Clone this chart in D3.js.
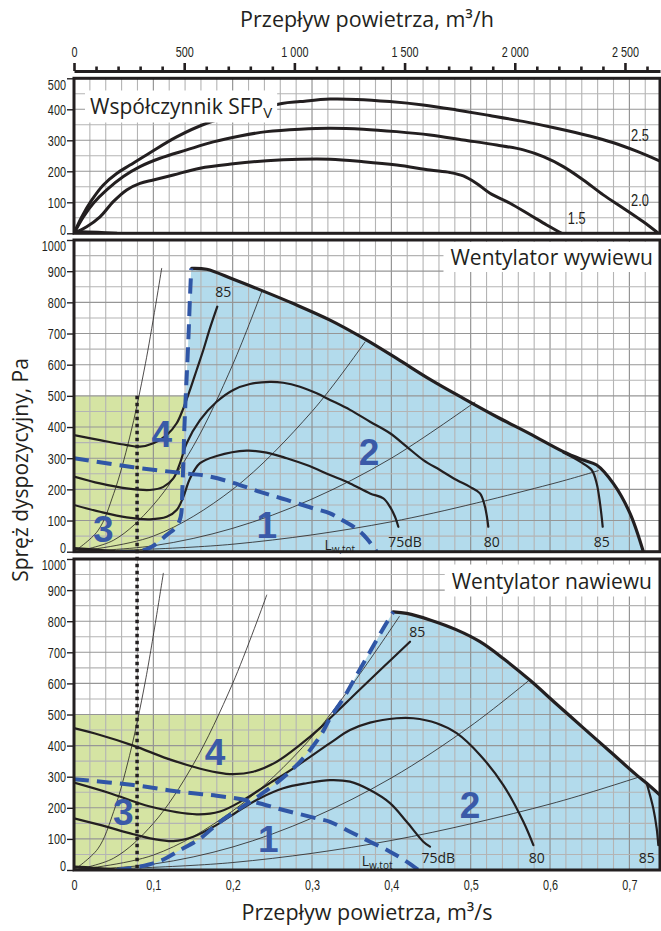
<!DOCTYPE html>
<html>
<head>
<meta charset="utf-8">
<script src="https://cdn.jsdelivr.net/npm/d3@7"></script>
<style>
html, body { margin: 0; padding: 0; background: #fff; }
svg { display: block; }
</style>
</head>
<body>
<svg id="chart"></svg>
<script>
// ---------- DATA (flow in m3/s, pressure in Pa) ----------
var flowMax = 0.7386;
var topTicks = [0, 500, 1000, 1500, 2000, 2500];
var topTickLabels = ["0", "500", "1 000", "1 500", "2 000", "2 500"];
var bottomTicks = [0, 0.1, 0.2, 0.3, 0.4, 0.5, 0.6, 0.7];
var bottomTickLabels = ["0", "0,1", "0,2", "0,3", "0,4", "0,5", "0,6", "0,7"];
var sfpTicks = [0, 100, 200, 300, 400, 500];
var paTicks = [0, 100, 200, 300, 400, 500, 600, 700, 800, 900, 1000];

// SFPv panel
var sfp25 = [[0,0],[0.0097,53],[0.0223,107],[0.037,156],[0.0538,193],[0.0706,220],[0.0958,260],[0.1294,311],[0.1673,355],[0.215,390],[0.262,419],[0.285,425],[0.3227,433],[0.356,432],[0.398,425],[0.44,414],[0.482,398],[0.524,380],[0.566,361],[0.608,339],[0.65,314],[0.68,292],[0.709,265],[0.7386,233]];
var sfp20 = [[0,0],[0.0118,53],[0.0244,97],[0.0412,140],[0.0622,183],[0.0832,215],[0.1084,242],[0.142,269],[0.1756,295],[0.2092,314],[0.2429,328],[0.2849,336],[0.3227,339],[0.3646,336],[0.4067,328],[0.4487,317],[0.4907,301],[0.5328,285],[0.5664,269],[0.5916,247],[0.6167,215],[0.6419,172],[0.6671,124],[0.6924,81],[0.7176,37],[0.7365,0]];
var sfp15 = [[0,0],[0.016,21],[0.0328,53],[0.0495,102],[0.0664,140],[0.0832,161],[0.1,172],[0.1252,188],[0.1588,210],[0.2008,224],[0.2429,234],[0.2849,239],[0.3227,239],[0.3646,231],[0.4067,220],[0.4487,204],[0.4739,196],[0.4907,185],[0.5075,161],[0.5243,129],[0.5495,97],[0.5748,59],[0.5958,27],[0.6147,0]];
var sfpStub = [[0,6],[0.03,3],[0.054,0]];
var sfpLabels = [["2.5", 0.7134, 317], ["2.0", 0.7134, 107], ["1.5", 0.6336, 48]];

// Exhaust fan panel (Wentylator wywiewu)
var exMax = [[0.1483,909],[0.1672,906],[0.2008,874],[0.2386,836],[0.2764,796],[0.3227,743],[0.3646,685],[0.4067,620],[0.4487,553],[0.4907,492],[0.5328,433],[0.5748,378],[0.6167,321],[0.6419,294],[0.6588,278],[0.6797,219],[0.7008,123],[0.7176,0]];
var exZoneEdge = [[0.058,0],[0.079,0],[0.098,16],[0.117,54],[0.129,80],[0.1345,112],[0.1365,198],[0.1378,284],[0.139,390],[0.1408,497],[0.1428,604],[0.1446,711],[0.1462,818],[0.1478,909]];
var exLimit = [[0,300],[0.0748,271],[0.1336,253],[0.1672,243],[0.2008,221],[0.2344,192],[0.2681,166],[0.3016,139],[0.3227,123],[0.3395,99],[0.3563,73],[0.3689,43],[0.3815,0]];
var exGreen = [0.141, 500];
var exFan85 = [[0,374],[0.0328,358],[0.0664,342],[0.0832,337],[0.1,348],[0.1168,374],[0.1294,412],[0.1378,460],[0.1462,519],[0.1546,583],[0.163,647],[0.1714,717],[0.1806,786]];
var exFan80 = [[0,241],[0.0328,219],[0.0664,203],[0.0958,198],[0.1126,208],[0.1252,235],[0.1336,284],[0.142,348],[0.1588,422],[0.1798,481],[0.2008,519],[0.2218,538],[0.247,545],[0.2638,542],[0.2848,529],[0.3059,508],[0.3227,487],[0.3479,455],[0.3731,417],[0.3983,380],[0.4193,337],[0.4403,294],[0.4613,262],[0.4823,230],[0.4991,208],[0.5117,187],[0.518,144],[0.5222,80]];
var exFan75 = [[0,150],[0.0328,128],[0.0664,110],[0.0958,104],[0.1168,112],[0.1294,134],[0.1378,176],[0.1462,235],[0.1588,284],[0.1798,307],[0.2177,324],[0.2429,318],[0.2681,300],[0.2933,278],[0.3227,246],[0.3479,219],[0.3731,187],[0.3899,171],[0.3983,144],[0.4046,112],[0.4088,80]];
var exFanMax85 = [[0.6167,318],[0.6378,289],[0.6525,262],[0.6588,219],[0.663,155],[0.6664,80]];
var exSystem = [
  [[0,0],[0.03,67],[0.05,186],[0.07,365],[0.09,603],[0.1105,909]],
  [[0,0],[0.05,37],[0.1,150],[0.15,337],[0.2,600],[0.2366,834]],
  [[0,0],[0.1,50],[0.2,200],[0.3,450],[0.3668,673]],
  [[0,0],[0.1,19],[0.2,75],[0.3,169],[0.4,300],[0.5054,480]],
  [[0,0],[0.2,24],[0.4,96],[0.6,216],[0.6608,260]]
];
var exStub = [[0,10],[0.025,6],[0.05,1]];
var exZones = [["4", 0.1105, 380], ["3", 0.037, 73], ["1", 0.243, 88], ["2", 0.3718, 321]];
var exLabels = [["85", 0.188, 834], ["75dB", 0.4172, 32], ["80", 0.5264, 32], ["85", 0.6651, 32]];
var exLw = [0.335, 22];

// Supply fan panel (Wentylator nawiewu)
var suMax = [[0.4025,830],[0.4193,825],[0.4487,804],[0.4823,772],[0.5117,734],[0.5411,680],[0.5748,610],[0.6084,533],[0.6419,457],[0.6756,381],[0.7092,305],[0.7218,279],[0.7386,241]];
var suZoneEdge = [[0.0538,0],[0.0832,11],[0.1084,29],[0.1336,64],[0.1588,101],[0.184,155],[0.2092,198],[0.2344,241],[0.2596,289],[0.2848,348],[0.31,429],[0.3227,488],[0.3395,552],[0.3563,627],[0.3731,702],[0.3899,777],[0.4025,830]];
var suLimit = [[0,292],[0.0748,273],[0.1378,250],[0.1798,239],[0.2218,222],[0.2638,193],[0.3059,166],[0.3227,155],[0.3479,123],[0.3731,91],[0.3983,59],[0.4193,27],[0.434,0]];
var suGreen = [0.324, 500];
var suFan85 = [[0,456],[0.0328,434],[0.0748,400],[0.1168,359],[0.1504,332],[0.1798,314],[0.2008,308],[0.226,316],[0.2555,348],[0.2848,402],[0.31,456],[0.3227,488],[0.3479,550],[0.3731,612],[0.3983,673],[0.4235,734]];
var suFan80 = [[0,281],[0.0454,247],[0.0958,204],[0.1546,179],[0.184,188],[0.2134,225],[0.2429,273],[0.2764,327],[0.3227,408],[0.3479,450],[0.3731,474],[0.4067,488],[0.4277,488],[0.4571,472],[0.4823,440],[0.5117,370],[0.5411,273],[0.5664,155],[0.579,80]];
var suFan75 = [[0,166],[0.0328,145],[0.0748,115],[0.0999,100],[0.1252,93],[0.1504,107],[0.1798,145],[0.2092,193],[0.2344,231],[0.2638,263],[0.2933,279],[0.3227,289],[0.3479,284],[0.3731,257],[0.3983,215],[0.4193,155],[0.4403,91],[0.4487,75]];
var suFanMax85 = [[0.7218,279],[0.7302,198],[0.7344,134],[0.7365,80]];
var suSystem = [
  [[0,0],[0.03,68],[0.05,188],[0.07,368],[0.09,608],[0.1126,954]],
  [[0,0],[0.05,38],[0.1,150],[0.15,338],[0.2,600],[0.2429,884]],
  [[0,0],[0.1,48],[0.2,190],[0.3,428],[0.41,815]],
  [[0,0],[0.1,19],[0.2,74],[0.3,167],[0.4,296],[0.5,463],[0.5727,608]],
  [[0,0],[0.2,24],[0.4,95],[0.6,212],[0.7134,300]]
];
var suStub = [[0,10],[0.025,6],[0.05,1]];
var suZones = [["4", 0.1777, 380], ["3", 0.0622, 187], ["1", 0.2449, 101], ["2", 0.4991, 209]];
var suLabels = [["85", 0.4327, 766], ["75dB", 0.4592, 38], ["80", 0.5832, 38], ["85", 0.7218, 38]];
var suLw = [0.382, 30];

var dottedFlow = 0.0795;

// ---------- SETUP ----------
var ink = "#231f20";
var blueFill = "#b3dbec";
var greenFill = "#d5e4a3";
var dashBlue = "#3056a6";
var titleFont = "'Open Sans', 'DejaVu Sans', sans-serif";
var tickFont = "'Liberation Sans', Arial, sans-serif";

var svg = d3.select("#chart").attr("width", 661).attr("height", 931)
  .style("font-family", titleFont);
var defs = svg.append("defs");

var x = d3.scaleLinear().domain([0, flowMax]).range([74, 660]);
var xh = d3.scaleLinear().domain([0, flowMax * 3600]).range([74, 660]);

var yTop = d3.scaleLinear().domain([0, 500]).range([233.3, 78.3]);
var yMid = d3.scaleLinear().domain([0, 1000]).range([551.7, 240]);
var yBot = d3.scaleLinear().domain([0, 1000]).range([870, 559]);

function lineFor(y) {
  return d3.line().x(d => x(d[0])).y(d => y(d[1])).curve(d3.curveCatmullRom.alpha(0.5));
}

function makePanel(name, y) {
  var x0 = x.range()[0], x1 = x.range()[1];
  defs.append("clipPath").attr("id", "clip-" + name)
    .append("rect")
    .attr("x", x0).attr("y", y.range()[1])
    .attr("width", x1 - x0).attr("height", y.range()[0] - y.range()[1]);
  var g = svg.append("g").attr("class", "panel-" + name);
  var inner = g.append("g").attr("clip-path", "url(#clip-" + name + ")");
  return { g: g, inner: inner, y: y };
}

function drawFills(p, zoneEdge, maxCurve, green) {
  var y = p.y;
  p.inner.append("rect")
    .attr("x", x(0)).attr("y", y(green[1]))
    .attr("width", x(green[0]) - x(0)).attr("height", y(0) - y(green[1]))
    .attr("fill", greenFill);
  var lg = lineFor(y);
  var last = maxCurve[maxCurve.length - 1];
  var d = lg(zoneEdge) + "L" + lg(maxCurve).slice(1) + "L" + x(last[0]) + "," + y(0) + "Z";
  p.inner.append("path").attr("d", d).attr("fill", blueFill);
}

function drawGrid(p) {
  var y = p.y, ymax = y.domain()[1];
  var gg = p.inner.append("g").attr("class", "grid");
  gg.selectAll("line.v")
    .data(d3.range(0.02, flowMax, 0.02))
    .enter().append("line")
    .attr("x1", d => x(d)).attr("x2", d => x(d))
    .attr("y1", y.range()[0]).attr("y2", y.range()[1])
    .attr("stroke", d => Math.abs(d * 10 - Math.round(d * 10)) < 1e-6 ? "#8c8c8c" : "#b4b4b4")
    .attr("stroke-width", 1.1);
  gg.selectAll("line.h")
    .data(d3.range(50, ymax, 50))
    .enter().append("line")
    .attr("x1", x.range()[0]).attr("x2", x.range()[1])
    .attr("y1", d => y(d)).attr("y2", d => y(d))
    .attr("stroke", d => d % 100 === 0 ? "#969696" : "#b4b4b4")
    .attr("stroke-width", 1.1);
}

function drawCurve(p, data, width) {
  p.inner.append("path").datum(data)
    .attr("d", lineFor(p.y))
    .attr("fill", "none").attr("stroke", ink)
    .attr("stroke-width", width).attr("stroke-linejoin", "round").attr("stroke-linecap", "round");
}

function drawDashed(p, data) {
  p.inner.append("path").datum(data)
    .attr("d", lineFor(p.y))
    .attr("fill", "none").attr("stroke", dashBlue)
    .attr("stroke-width", 4).attr("stroke-dasharray", "15,8");
}

function drawFrame(p) {
  var y = p.y;
  p.g.append("rect")
    .attr("x", x.range()[0]).attr("y", y.range()[1])
    .attr("width", x.range()[1] - x.range()[0]).attr("height", y.range()[0] - y.range()[1])
    .attr("fill", "none").attr("stroke", ink).attr("stroke-width", 3);
}

function drawYAxis(p, ticks) {
  var y = p.y, top = y.domain()[1];
  var ax = p.g.append("g").attr("transform", "translate(" + x.range()[0] + ",0)")
    .call(d3.axisLeft(y).tickValues(ticks).tickSize(7).tickFormat(d3.format("d")));
  ax.select(".domain").remove();
  ax.selectAll(".tick line").attr("stroke", ink).attr("stroke-width", 1.4);
  ax.selectAll(".tick text")
    .attr("x", -11.5)
    .attr("y", d => d === top ? 6 : (d === 0 ? -4 : 0))
    .attr("transform", "scale(0.7,1)")
    .style("font-family", tickFont).style("font-size", "15.5px").attr("fill", ink);
}

function drawTexts(p, items, size, weight, color, cls) {
  p.g.selectAll("text." + cls)
    .data(items).enter().append("text")
    .attr("class", cls)
    .attr("x", d => x(d[1])).attr("y", d => p.y(d[2]))
    .attr("text-anchor", "middle").attr("dy", "0.36em")
    .style("font-size", size).style("font-weight", weight)
    .style("font-family", weight === "bold" ? "'Liberation Sans', Arial, sans-serif" : titleFont)
    .attr("fill", color)
    .text(d => d[0]);
}

function drawLw(p, pos) {
  var t = p.g.append("text")
    .attr("x", x(pos[0])).attr("y", p.y(pos[1]))
    .attr("text-anchor", "middle").attr("dy", "0.36em")
    .style("font-size", "14px").attr("fill", ink);
  t.append("tspan").text("L");
  t.append("tspan").attr("dy", 3).style("font-size", "10px").text("w,tot");
}

function boxedTitle(p, build, anchor, xPos, yPos, padL, padR, padV) {
  var gt = p.g.append("g");
  var rect = gt.append("rect").attr("fill", "#fff");
  var t = gt.append("text").attr("x", xPos).attr("y", yPos)
    .attr("text-anchor", anchor).style("font-size", "21px").attr("fill", ink);
  build(t);
  var b = t.node().getBBox();
  rect.attr("x", b.x - padL).attr("y", b.y - padV)
    .attr("width", b.width + padL + padR).attr("height", b.height + 2 * padV);
}

// ---------- TOP AXIS (m3/h) ----------
var topAx = svg.append("g").attr("transform", "translate(0,71)")
  .call(d3.axisTop(xh).tickValues(topTicks).tickSize(8).tickSizeOuter(0).tickPadding(6)
    .tickFormat((d, i) => topTickLabels[i]));
topAx.select(".domain").attr("stroke", ink).attr("stroke-width", 3);
topAx.selectAll(".tick line").attr("stroke", ink).attr("stroke-width", 2.6);
topAx.selectAll(".tick text").attr("transform", "scale(0.7,1)")
  .style("font-family", tickFont).style("font-size", "15.5px").attr("fill", ink);

var topMinor = svg.append("g").attr("transform", "translate(0,71)")
  .call(d3.axisTop(xh).tickValues(d3.range(100, 2700, 100).filter(v => v % 500 !== 0))
    .tickSize(4.5).tickSizeOuter(0).tickFormat(""));
topMinor.select(".domain").remove();
topMinor.selectAll(".tick line").attr("stroke", ink).attr("stroke-width", 2.6);

svg.append("text").attr("x", 367).attr("y", 26.5).attr("text-anchor", "middle")
  .style("font-size", "21.5px").attr("fill", ink).text("Przepływ powietrza, m³/h");

// ---------- PANEL 1: SFPv ----------
var p1 = makePanel("sfp", yTop);
drawGrid(p1);
[sfp25, sfp20, sfp15].forEach(s => drawCurve(p1, s, 3));
drawCurve(p1, sfpStub, 3);
boxedTitle(p1, function (t) {
  t.append("tspan").text("Współczynnik SFP");
  t.append("tspan").attr("dy", 4).style("font-size", "15px").text("V");
}, "start", 90, 113.5, 5, 5, 1);
p1.g.selectAll("text.sfplab").data(sfpLabels).enter().append("text")
  .attr("class", "sfplab")
  .attr("transform", d => "translate(" + x(d[1]) + "," + yTop(d[2]) + ") scale(0.8,1)")
  .attr("text-anchor", "middle").attr("dy", "0.36em")
  .style("font-family", tickFont).style("font-size", "16px").attr("fill", ink)
  .text(d => d[0]);
drawFrame(p1);
drawYAxis(p1, sfpTicks);

// ---------- PANEL 2: exhaust fan ----------
var p2 = makePanel("ex", yMid);
drawFills(p2, exZoneEdge, exMax, exGreen);
drawGrid(p2);
exSystem.forEach(s => drawCurve(p2, s, 0.8));
[exFan85, exFan80, exFan75, exFanMax85].forEach(s => drawCurve(p2, s, 2.2));
drawCurve(p2, exStub, 3);
drawCurve(p2, exMax, 3.2);
drawDashed(p2, exZoneEdge);
drawDashed(p2, exLimit);
boxedTitle(p2, function (t) { t.text("Wentylator wywiewu"); }, "end", 653, 265, 7, 12, 1);
drawTexts(p2, exZones, "37px", "bold", "#3a5aa8", "zone");
drawTexts(p2, exLabels, "14px", "normal", ink, "lab");
drawLw(p2, exLw);
drawFrame(p2);
drawYAxis(p2, paTicks);

// ---------- PANEL 3: supply fan ----------
var p3 = makePanel("su", yBot);
drawFills(p3, suZoneEdge, suMax, suGreen);
drawGrid(p3);
suSystem.forEach(s => drawCurve(p3, s, 0.8));
[suFan85, suFan80, suFan75, suFanMax85].forEach(s => drawCurve(p3, s, 2.2));
drawCurve(p3, suStub, 3);
drawCurve(p3, suMax, 3.2);
drawDashed(p3, suZoneEdge);
drawDashed(p3, suLimit);
boxedTitle(p3, function (t) { t.text("Wentylator nawiewu"); }, "end", 652, 588.5, 7, 12, 2);
drawTexts(p3, suZones, "37px", "bold", "#3a5aa8", "zone");
drawTexts(p3, suLabels, "14px", "normal", ink, "lab");
drawLw(p3, suLw);
drawFrame(p3);
drawYAxis(p3, paTicks);

// dotted reference flow line across both fan panels
svg.append("line")
  .attr("x1", x(dottedFlow)).attr("x2", x(dottedFlow))
  .attr("y1", yMid(500)).attr("y2", yBot(0) - 2)
  .attr("stroke", ink).attr("stroke-width", 3.5).attr("stroke-dasharray", "3.5,3.5");

// ---------- BOTTOM AXIS (m3/s) ----------
var botAx = svg.append("g").attr("transform", "translate(0," + yBot(0) + ")")
  .call(d3.axisBottom(x).tickValues(bottomTicks).tickSize(0).tickPadding(9)
    .tickFormat((d, i) => bottomTickLabels[i]));
botAx.select(".domain").remove();
botAx.selectAll(".tick text").attr("transform", "scale(0.7,1)")
  .style("font-family", tickFont).style("font-size", "15.5px").attr("fill", ink);

svg.append("text").attr("x", 367).attr("y", 920).attr("text-anchor", "middle")
  .style("font-size", "21.5px").attr("fill", ink).text("Przepływ powietrza, m³/s");

svg.append("text").attr("transform", "translate(21,470) rotate(-90)")
  .attr("text-anchor", "middle").attr("dy", "0.35em")
  .style("font-size", "21px").attr("fill", ink).text("Spręż dyspozycyjny, Pa");
</script>
</body>
</html>
